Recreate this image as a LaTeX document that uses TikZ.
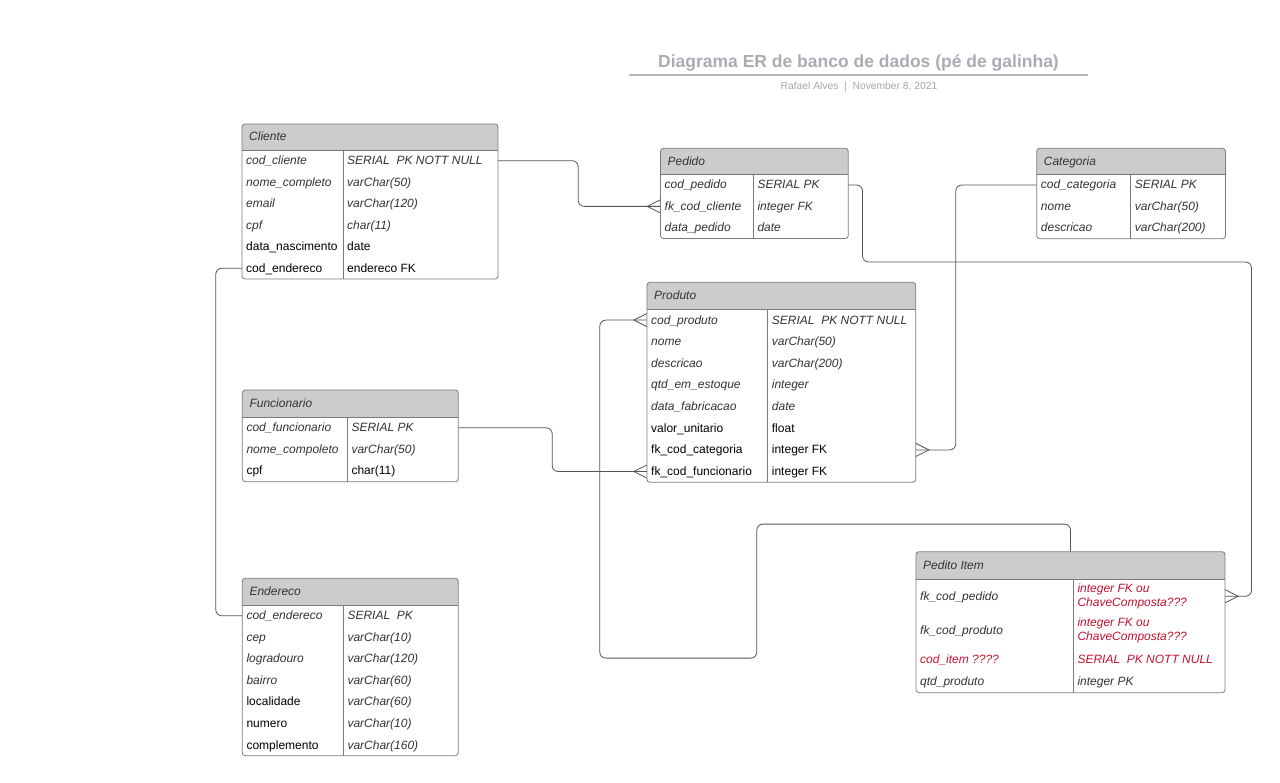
\documentclass[tikz,border=0pt]{standalone}
\usepackage{fontspec}
\setmainfont{Liberation Sans}
\usetikzlibrary{calc}
\definecolor{hdrgray}{HTML}{CCCCCC}
\definecolor{framegray}{HTML}{7A7A7A}
\definecolor{conngray}{HTML}{555555}
\definecolor{txtgray}{HTML}{333333}
\definecolor{errred}{HTML}{C4122F}
\definecolor{titlegray}{HTML}{A9ADB3}
\definecolor{subgray}{HTML}{A3A7AD}
\definecolor{rulegray}{HTML}{B5B9BF}

\tikzset{
  tblframe/.style={draw=framegray, rounded corners=3pt, inner sep=0pt, line width=0.8pt},
  divline/.style={draw=framegray, line width=0.8pt},
  hdrtxt/.style={anchor=west, inner sep=0pt, font=\fontsize{12}{14}\selectfont\itshape, text=txtgray, text height=10pt, text depth=2pt},
  rowbx/.style={inner sep=0pt, draw=none},
  cell/.style={anchor=west, inner sep=0pt, font=\fontsize{12}{14}\selectfont, text=black, text height=10pt, text depth=2pt},
  cit/.style={font=\fontsize{12}{14}\selectfont\itshape, text=txtgray},
  cup/.style={text=black},
  cred/.style={font=\fontsize{12}{14}\selectfont\itshape, text=errred},
  ctwo/.style={font=\fontsize{12}{14}\selectfont\itshape, text=errred, text height={}, text depth={}, align=left},
  conn/.style={draw=conngray, line width=0.8pt, rounded corners=6pt},
  crowline/.style={draw=conngray, line width=0.8pt, sharp corners},
  crowW/.pic={\draw[crowline] (0,-6.5) -- (-13,0) -- (0,6.5);},
  crowE/.pic={\draw[crowline] (0,-6.5) -- (13,0) -- (0,6.5);},
  ttl/.style={anchor=base, inner sep=0pt, font=\fontsize{17.5}{20}\selectfont\bfseries, text=titlegray},
  subttl/.style={anchor=base, inner sep=0pt, font=\fontsize{10.3}{12}\selectfont, text=subgray},
  titlerule/.style={draw=rulegray, line width=1.6pt}
}

% name xl ytop xr yhead ybot xdiv title
\newcommand\ertable[8]{%
  \begin{scope}
    \clip[rounded corners=3pt] (#2,#3) rectangle (#4,#6);
    \fill[hdrgray] (#2,#3) rectangle (#4,#5);
  \end{scope}
  \draw[divline] (#2,#5) -- (#4,#5);
  \draw[divline] (#7,#5) -- (#7,#6);
  \node[tblframe, minimum width={#4-#2}, minimum height={#6-#3}] (#1) at ({(#2+#4)/2},{(#3+#6)/2}) {};
  \node[hdrtxt] (#1t) at ({#2+7},{(#3+#5)/2}) {#8};
}
% name yc h lstyle ltext rstyle rtext
\newcommand\errow[7]{%
  \node[rowbx, minimum width={\XR-\XL}, minimum height={#3}] (#1) at ({(\XL+\XR)/2},#2) {};
  \node[cell,#4] (#1l) at ({\XL+4},#2) {#5};
  \node[cell,#6] (#1r) at ({\XD+4},#2) {#7};
}

\begin{document}
\begin{tikzpicture}[x=1pt,y=-1pt]
\fill[white] (0,0) rectangle (1280,783);
\useasboundingbox (0,0) rectangle (1280,783);

% Title
\node[ttl] (title) at (858.5,68) {Diagrama ER de banco de dados (pé de galinha)};
\draw[titlerule] (629,75) -- (1088,75);
\node[subttl] (subtitle) at (859,89.5) {Rafael Alves\ \ |\ \ November 8, 2021};

% Cliente
\def\XL{242}\def\XR{498}\def\XD{343}
\ertable{cli}{242}{124}{498}{150}{279}{343}{Cliente}
\errow{cli1}{160.75}{21.5}{cit}{cod\_cliente}{cit}{SERIAL\ \ PK NOTT NULL}
\errow{cli2}{182.25}{21.5}{cit}{nome\_completo}{cit}{varChar(50)}
\errow{cli3}{203.75}{21.5}{cit}{email}{cit}{varChar(120)}
\errow{cli4}{225.25}{21.5}{cit}{cpf}{cit}{char(11)}
\errow{cli5}{246.75}{21.5}{cup}{data\_nascimento}{cup}{date}
\errow{cli6}{268.25}{21.5}{cup}{cod\_endereco}{cup}{endereco FK}

% Pedido
\def\XL{660.5}\def\XR{848.3}\def\XD{753.3}
\ertable{ped}{660.5}{148.3}{848.3}{174.3}{238.5}{753.3}{Pedido}
\errow{ped1}{185}{21.4}{cit}{cod\_pedido}{cit}{SERIAL PK}
\errow{ped2}{206.4}{21.4}{cit}{fk\_cod\_cliente}{cit}{integer FK}
\errow{ped3}{227.8}{21.4}{cit}{data\_pedido}{cit}{date}

% Categoria
\def\XL{1036.7}\def\XR{1225.5}\def\XD{1130.7}
\ertable{cat}{1036.7}{148.3}{1225.5}{174.3}{238.8}{1130.7}{Categoria}
\errow{cat1}{185}{21.5}{cit}{cod\_categoria}{cit}{SERIAL PK}
\errow{cat2}{206.5}{21.5}{cit}{nome}{cit}{varChar(50)}
\errow{cat3}{228}{21.5}{cit}{descricao}{cit}{varChar(200)}

% Produto
\def\XL{647}\def\XR{915.7}\def\XD{767.7}
\ertable{pro}{647}{282.3}{915.7}{309.3}{482.3}{767.7}{Produto}
\errow{pro1}{320.1}{21.6}{cit}{cod\_produto}{cit}{SERIAL\ \ PK NOTT NULL}
\errow{pro2}{341.7}{21.6}{cit}{nome}{cit}{varChar(50)}
\errow{pro3}{363.4}{21.6}{cit}{descricao}{cit}{varChar(200)}
\errow{pro4}{385.0}{21.6}{cit}{qtd\_em\_estoque}{cit}{integer}
\errow{pro5}{406.6}{21.6}{cit}{data\_fabricacao}{cit}{date}
\errow{pro6}{428.2}{21.6}{cup}{valor\_unitario}{cup}{float}
\errow{pro7}{449.9}{21.6}{cup}{fk\_cod\_categoria}{cup}{integer FK}
\errow{pro8}{471.5}{21.6}{cup}{fk\_cod\_funcionario}{cup}{integer FK}

% Funcionario
\def\XL{242.3}\def\XR{458.3}\def\XD{347.3}
\ertable{fun}{242.3}{390}{458.3}{417}{481.7}{347.3}{Funcionario}
\errow{fun1}{427.8}{21.5}{cit}{cod\_funcionario}{cit}{SERIAL PK}
\errow{fun2}{449.3}{21.5}{cit}{nome\_compoleto}{cit}{varChar(50)}
\errow{fun3}{470.9}{21.5}{cup}{cpf}{cup}{char(11)}

% Endereco
\def\XL{242.3}\def\XR{458.3}\def\XD{343.3}
\ertable{end}{242.3}{578.3}{458.3}{605}{755.7}{343.3}{Endereco}
\errow{end1}{615.8}{21.5}{cit}{cod\_endereco}{cit}{SERIAL\ \ PK}
\errow{end2}{637.3}{21.5}{cit}{cep}{cit}{varChar(10)}
\errow{end3}{658.8}{21.5}{cit}{logradouro}{cit}{varChar(120)}
\errow{end4}{680.4}{21.5}{cit}{bairro}{cit}{varChar(60)}
\errow{end5}{701.9}{21.5}{cup}{localidade}{cit}{varChar(60)}
\errow{end6}{723.4}{21.5}{cup}{numero}{cit}{varChar(10)}
\errow{end7}{745.0}{21.5}{cup}{complemento}{cit}{varChar(160)}

% Pedito Item
\def\XL{916}\def\XR{1225}\def\XD{1073.3}
\ertable{pit}{916}{551.7}{1225}{579}{692.7}{1073.3}{Pedito Item}
\errow{pit1}{596.25}{34.5}{cit}{fk\_cod\_pedido}{ctwo}{integer FK ou\\ChaveComposta???}
\errow{pit2}{630.75}{34.5}{cit}{fk\_cod\_produto}{ctwo}{integer FK ou\\ChaveComposta???}
\errow{pit3}{659}{22}{cred}{cod\_item ????}{cred}{SERIAL\ \ PK NOTT NULL}
\errow{pit4}{681.35}{22.7}{cit}{qtd\_produto}{cit}{integer PK}

% Connectors
\draw[conn] (cli1.east) -- ++(80,0) |- (ped2.west);
\pic at (ped2.west) {crowW};

\draw[conn] (ped1.east) -- ++(14,0) |- ++(389,77) |- (pit1.east);
\pic at (pit1.east) {crowE};

\draw[conn] (cat1.west) -- ++(-80.7,0) |- (pro7.east);
\pic at (pro7.east) {crowE};

\draw[conn] (fun1.east) -- ++(93.7,0) |- (pro8.west);
\pic at (pro8.west) {crowW};

\draw[conn] (cli6.west) -- ++(-26,0) |- (end1.west);

\draw[conn] (pro1.west) -- ++(-47,0) |- ++(157,338) -- ++(0,-134) -| (pit.north);
\pic at (pro1.west) {crowW};

\end{tikzpicture}
\end{document}
